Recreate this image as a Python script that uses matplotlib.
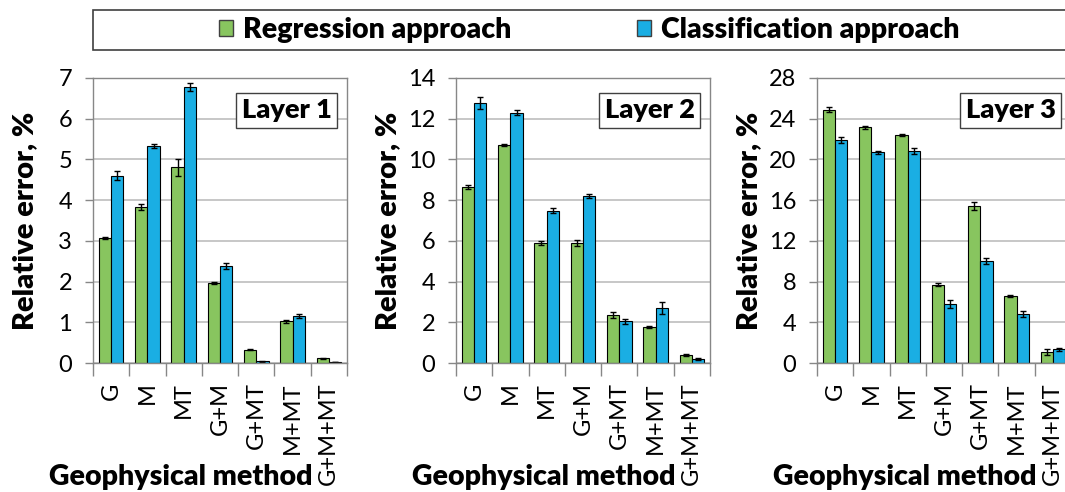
import matplotlib
matplotlib.use('Agg')
import matplotlib.pyplot as plt
import numpy as np
from matplotlib.patches import Rectangle, Patch

plt.rcParams['font.family'] = ['Lato', 'DejaVu Sans']

methods = ['G', 'M', 'MT', 'G+M', 'G+MT', 'M+MT', 'G+M+MT']

reg_l1 = [3.07, 3.83, 4.81, 1.97, 0.33, 1.02, 0.12]
reg_l1_err = [0.03, 0.07, 0.21, 0.02, 0.01, 0.04, 0.01]
cls_l1 = [4.60, 5.33, 6.77, 2.38, 0.04, 1.16, 0.02]
cls_l1_err = [0.11, 0.06, 0.10, 0.08, 0.01, 0.05, 0.005]

reg_l2 = [8.63, 10.73, 5.90, 5.90, 2.34, 1.77, 0.37]
reg_l2_err = [0.10, 0.05, 0.08, 0.15, 0.15, 0.05, 0.05]
cls_l2 = [12.77, 12.30, 7.47, 8.19, 2.05, 2.70, 0.20]
cls_l2_err = [0.29, 0.12, 0.12, 0.10, 0.12, 0.28, 0.05]

reg_l3 = [24.89, 23.15, 22.36, 7.69, 15.42, 6.58, 1.08]
reg_l3_err = [0.25, 0.12, 0.10, 0.15, 0.40, 0.10, 0.25]
cls_l3 = [21.90, 20.70, 20.83, 5.80, 10.02, 4.81, 1.37]
cls_l3_err = [0.30, 0.15, 0.30, 0.35, 0.30, 0.30, 0.15]

layers = [
    ('Layer 1', reg_l1, reg_l1_err, cls_l1, cls_l1_err, 7, 1),
    ('Layer 2', reg_l2, reg_l2_err, cls_l2, cls_l2_err, 14, 2),
    ('Layer 3', reg_l3, reg_l3_err, cls_l3, cls_l3_err, 28, 4),
]

green = '#88C55F'
blue = '#1AAEE3'
W, H = 1065, 492
fig = plt.figure(figsize=(W / 100, H / 100), dpi=100)

lefts = [93, 456, 817]
aw = 254
x = np.arange(len(methods))
bw = 0.34
bold = 'heavy'

for left, (name, reg, reg_err, cls, cls_err, ymax, step) in zip(lefts, layers):
    ax = fig.add_axes([left / W, (H - 363) / H, aw / W, 285 / H])
    ax.set_axisbelow(True)
    ax.yaxis.grid(True, color='#BEBEBE', lw=1.2)
    ax.bar(x - bw / 2, reg, bw, color=green, edgecolor='black', lw=0.8,
           yerr=reg_err, error_kw=dict(ecolor='black', elinewidth=1, capsize=2, capthick=1))
    ax.bar(x + bw / 2, cls, bw, color=blue, edgecolor='black', lw=0.8,
           yerr=cls_err, error_kw=dict(ecolor='black', elinewidth=1, capsize=2, capthick=1))
    ax.set_xlim(-0.5, len(methods) - 0.5)
    ax.set_ylim(0, ymax)
    ax.set_yticks(np.arange(0, ymax + step / 2, step))
    ax.set_xticks(x)
    ax.set_xticklabels(methods, rotation=90, fontsize=17)
    ax.set_xticks(np.arange(-0.5, len(methods), 1), minor=True)
    ax.tick_params(axis='x', which='major', length=0, pad=14)
    ax.tick_params(axis='x', which='minor', length=9, color='#878787', width=1)
    ax.tick_params(axis='y', length=6, color='#878787', width=1, pad=9, labelsize=17)
    for s in ax.spines.values():
        s.set_color('#878787')
        s.set_linewidth(1)
    ax.text(-68 / aw, 0.5, 'Relative error, %', rotation=90, ha='center', va='center',
            fontsize=21, fontweight=bold, transform=ax.transAxes)
    ax.text(0.346, -0.40, 'Geophysical method', ha='center', va='center',
            fontsize=20.5, fontweight=bold, transform=ax.transAxes)
    ax.text(0.762, 0.887, name, ha='center', va='center', fontsize=19.5, fontweight=bold,
            transform=ax.transAxes,
            bbox=dict(boxstyle='square,pad=0.2', fc='white', ec='#404040', lw=1))

fig.patches.append(Rectangle((93 / W, 1 - 50 / H), 1.0, 40 / H, transform=fig.transFigure,
                             fc='white', ec='#404040', lw=1.2))
handles = [Patch(fc=green, ec='#404040', lw=1), Patch(fc=blue, ec='#404040', lw=1)]
fig.legend(handles, ['Regression approach', 'Classification approach'], loc='center',
           bbox_to_anchor=(589 / W, 1 - 30 / H), ncol=2, frameon=False,
           prop=dict(size=20.5, weight=bold), handlelength=0.5, handleheight=0.5,
           handletextpad=0.35, columnspacing=4.4)

fig.savefig('out.png', dpi=100)
